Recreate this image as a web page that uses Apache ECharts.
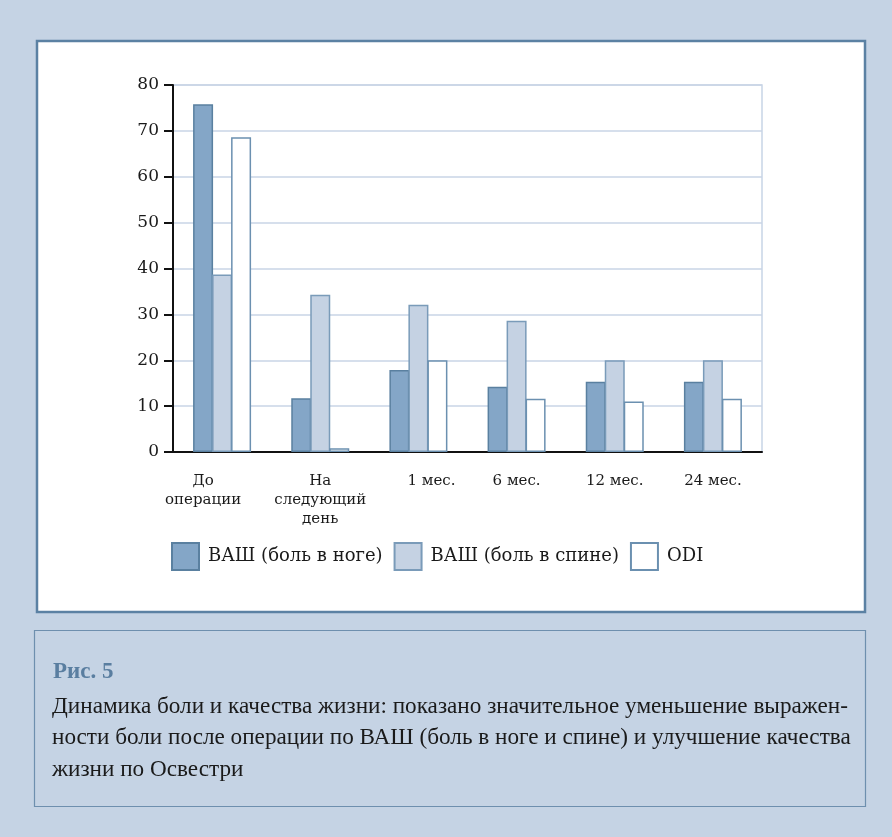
<!DOCTYPE html>
<html>
<head>
<meta charset="utf-8">
<script src="https://cdn.jsdelivr.net/npm/echarts@6/dist/echarts.min.js"></script>
<style>
	html, body { margin: 0; padding: 0; background: #c5d3e4; }
	#chart { width: 892px; height: 837px; }
</style>
</head>
<body>
<div id="chart"></div>
<script>
// категории по оси X
var categories = ['До\nоперации', 'На\nследующий\nдень', '1 мес.', '6 мес.', '12 мес.', '24 мес.'];
// ВАШ (боль в ноге)
var legPain = [75.8, 11.7, 17.9, 14.2, 15.3, 15.3];
// ВАШ (боль в спине)
var backPain = [38.7, 34.3, 32.1, 28.6, 20.0, 20.0];
// ODI
var odi = [68.6, 0.8, 20.0, 11.6, 11.0, 11.6];
var seriesNames = ['ВАШ (боль в ноге)', 'ВАШ (боль в спине)', 'ODI'];

var captionTitle = 'Рис. 5';
var captionLines = [
	'Динамика боли и качества жизни: показано значительное уменьшение выражен-',
	'ности боли после операции по ВАШ (боль в ноге и спине) и улучшение качества',
	'жизни по Освестри'
];

var serif = 'DejaVu Serif';

var myChart = echarts.init(document.getElementById('chart'));
myChart.setOption({
	backgroundColor: '#c5d3e4',
	animation: false,
	graphic: [
		{
			type: 'rect', z: -10,
			shape: { x: 37, y: 41, width: 828, height: 571 },
			style: { fill: '#ffffff', stroke: '#5b81a3', lineWidth: 2.5 }
		},
		{
			type: 'rect', z: -10,
			shape: { x: 34.5, y: 630.5, width: 831, height: 176 },
			style: { fill: '#c5d3e4', stroke: '#6e8fae', lineWidth: 1.2 }
		},
		{
			type: 'text', left: 53, top: 661,
			style: { text: captionTitle, font: 'bold 23px "Liberation Serif"', fill: '#5a7ea0' }
		},
		{
			type: 'text', left: 52, top: 691,
			style: { text: captionLines.join('\n'), font: '23.2px "Liberation Serif"', lineHeight: 31.5, fill: '#1a1a1a' }
		}
	],
	grid: {
		left: 173, right: 130, top: 85, bottom: 385,
		show: true, borderColor: '#c8d5e6', borderWidth: 1.5
	},
	legend: {
		data: seriesNames,
		left: 171, top: 542, padding: 0,
		itemWidth: 27, itemHeight: 27, itemGap: 11,
		icon: 'rect',
		textStyle: { fontFamily: serif, fontSize: 18, color: '#1a1a1a', padding: [0, 0, 0, 4] }
	},
	xAxis: {
		type: 'category',
		data: categories.map(function (c, i) {
			if (i === 0) return { value: c, textStyle: { padding: [0, 38, 0, 0] } };
			if (i === 2) return { value: c, textStyle: { padding: [0, 0, 0, 26] } };
			return c;
		}),
		axisLine: { lineStyle: { color: '#111', width: 2 } },
		axisTick: { length: 9, lineStyle: { color: '#111', width: 2 } },
		axisLabel: { fontFamily: serif, fontSize: 15, color: '#1a1a1a', lineHeight: 19, margin: 20, interval: 0 }
	},
	yAxis: {
		type: 'value', min: 0, max: 80, interval: 10,
		axisLine: { show: true, lineStyle: { color: '#111', width: 2 } },
		axisTick: { show: true, length: 9, lineStyle: { color: '#111', width: 2 } },
		axisLabel: { fontFamily: serif, fontSize: 17, color: '#1a1a1a', margin: 14 },
		splitLine: { lineStyle: { color: '#c8d5e6', width: 1.5 } }
	},
	series: [
		{
			name: seriesNames[0], type: 'bar', data: legPain,
			barWidth: 20, barGap: '-5%',
			itemStyle: { color: '#84a6c7', borderColor: '#5a80a0', borderWidth: 1.5 }
		},
		{
			name: seriesNames[1], type: 'bar', data: backPain,
			barWidth: 20, barGap: '-5%',
			itemStyle: { color: '#c5d2e3', borderColor: '#7a9bb9', borderWidth: 1.5 }
		},
		{
			name: seriesNames[2], type: 'bar', data: odi,
			barWidth: 20, barGap: '-5%',
			itemStyle: { color: '#ffffff', borderColor: '#6b90b0', borderWidth: 1.5 }
		}
	]
});
</script>
</body>
</html>
